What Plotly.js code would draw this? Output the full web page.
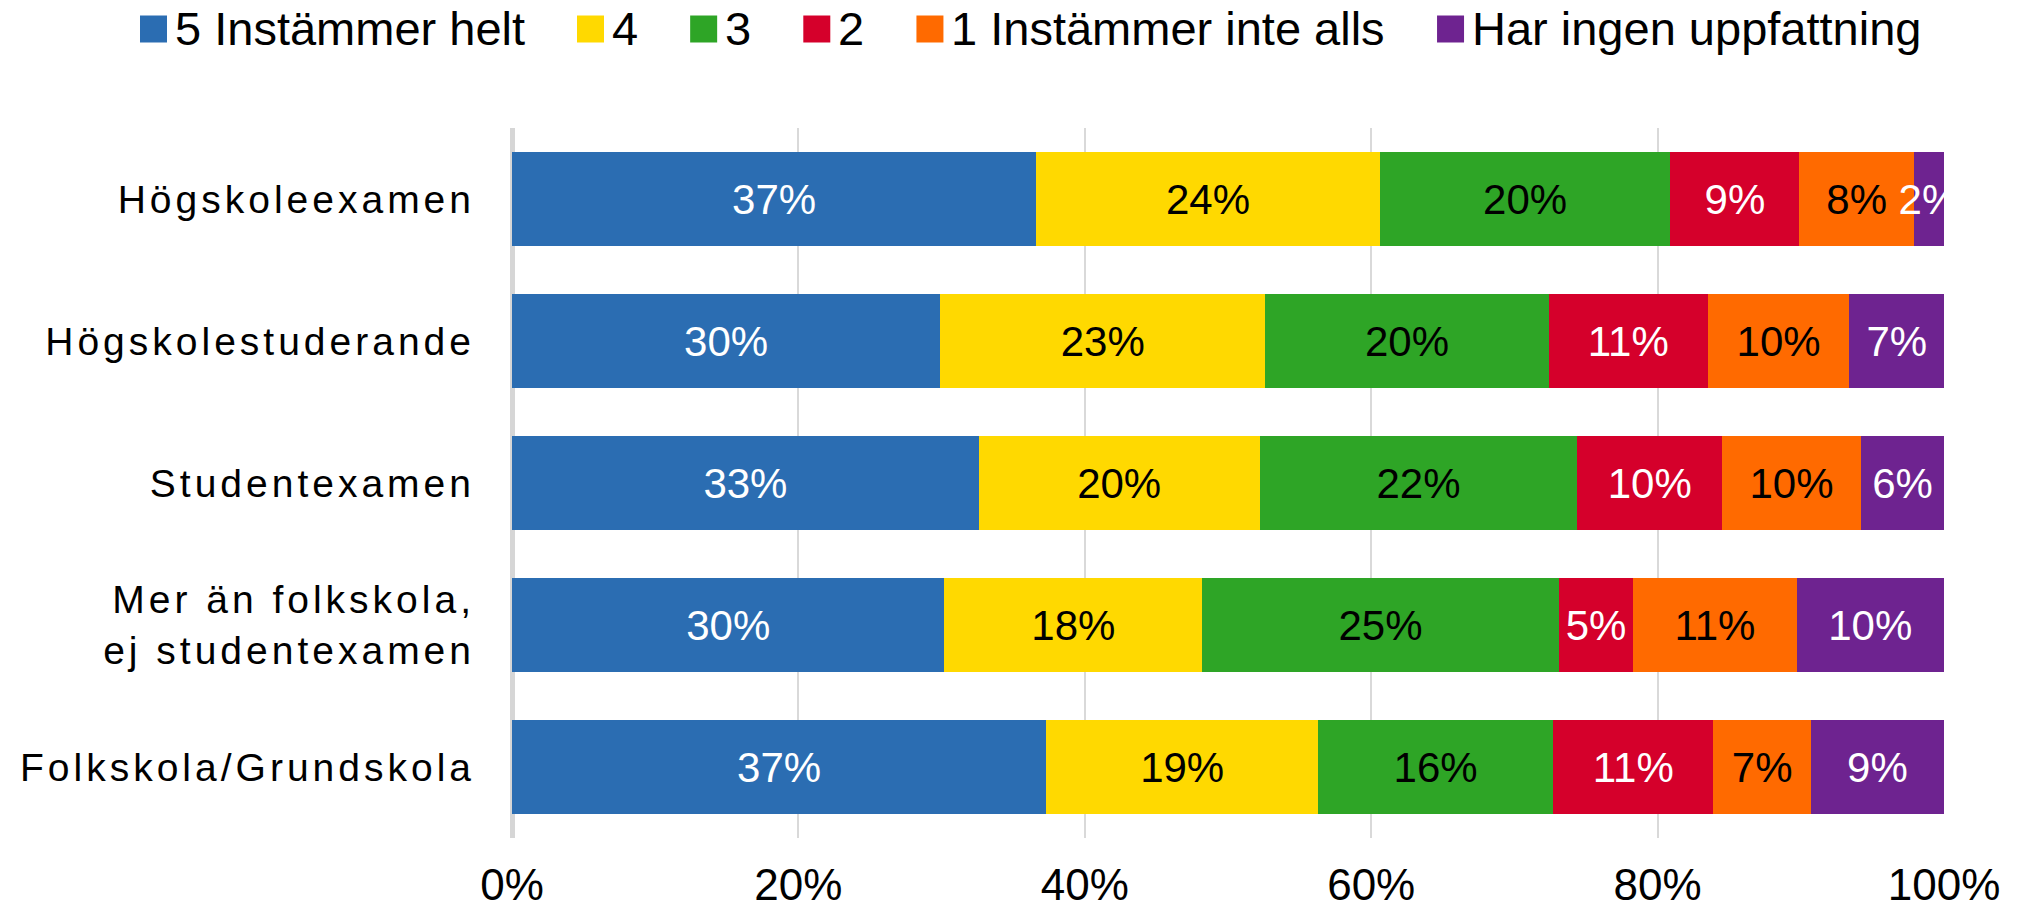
<!DOCTYPE html>
<html><head><meta charset="utf-8">
<script src="https://cdn.plot.ly/plotly-3.0.1.min.js"></script>
<style>
html,body{margin:0;padding:0;background:#fff;}
#chart{width:2018px;height:913px;}
#chart .ytick text{letter-spacing:4px;}
</style></head><body><div id="chart"></div>
<script>
// ---- data ----
const categories = ["Högskoleexamen","Högskolestuderande","Studentexamen","Mer än folkskola,<br>ej studentexamen","Folkskola/Grundskola"];
const seriesNames = ["5 Instämmer helt","4","3","2","1 Instämmer inte alls","Har ingen uppfattning"];
const s5 = [36.6, 29.9, 32.6, 30.2, 37.3];
const s4 = [24.0, 22.7, 19.6, 18.0, 19.0];
const s3 = [20.3, 19.8, 22.2, 24.9, 16.4];
const s2 = [9.0, 11.1, 10.1, 5.2, 11.2];
const s1 = [8.0, 9.9, 9.7, 11.4, 6.8];
const sNone = [2.1, 6.6, 5.8, 10.3, 9.3];
const xTickValues = [0, 20, 40, 60, 80, 100];
const xTickLabels = ["0%","20%","40%","60%","80%","100%"];

// ---- styles ----
const seriesValues = [s5, s4, s3, s2, s1, sNone];
const colors = ["#2b6db2","#ffd900","#2ea526","#d5002b","#ff6a00","#6e2390"];
const textColors = ["#ffffff","#000000","#000000","#ffffff","#000000","#ffffff"];
const FONT = "Liberation Sans, Arial, sans-serif";
const W = 2018, H = 913;
const margin = {l:512, r:74, t:128, b:75};
const plotW = W - margin.l - margin.r, plotH = H - margin.t - margin.b;

const traces = seriesValues.map((vals, i) => ({
  type: "bar", orientation: "h", name: seriesNames[i],
  x: vals, y: categories,
  marker: {color: colors[i], line: {width: 0}},
  texttemplate: "%{x:.0f}%", textposition: "inside", insidetextanchor: "middle",
  constraintext: "none", textangle: 0,
  insidetextfont: {family: FONT, size: 42, color: textColors[i]},
  cliponaxis: true, hoverinfo: "skip", showlegend: false
}));

// ---- legend (keys + text above the plot) ----
const ctx = document.createElement("canvas").getContext("2d");
const legendFont = 47;
ctx.font = legendFont + 'px "Liberation Sans"';
const shapes = [], annotations = [];
const toPX = v => (v - margin.l) / plotW;
const toPY = v => (margin.t + plotH - v) / plotH;
let cx = 140; const sq = 27, gapIn = 7, gapOut = 53, legendMid = 29;
seriesNames.forEach((n, i) => {
  shapes.push({type: "rect", xref: "paper", yref: "paper",
    x0: toPX(cx), x1: toPX(cx + sq), y0: toPY(legendMid + sq/2), y1: toPY(legendMid - sq/2),
    fillcolor: colors[i], line: {width: 0}, layer: "above"});
  const tx = cx + sq + gapIn;
  annotations.push({xref: "paper", yref: "paper", x: toPX(tx), y: toPY(legendMid),
    xanchor: "left", yanchor: "middle", text: n, showarrow: false,
    font: {family: FONT, size: legendFont, color: "#000"}, borderpad: 0});
  cx = tx + ctx.measureText(n).width + gapOut;
});

const layout = {
  width: W, height: H, margin: margin,
  paper_bgcolor: "#fff", plot_bgcolor: "#fff",
  font: {family: FONT, color: "#000"},
  barmode: "stack", bargap: 0.34,
  showlegend: false,
  xaxis: {range: [0, 100], tickvals: xTickValues, ticktext: xTickLabels,
    showgrid: true, gridcolor: "#d9d9d9", gridwidth: 2,
    zeroline: true, zerolinecolor: "#d6d6d6", zerolinewidth: 5,
    showline: false, ticks: "", ticklabelstandoff: 17,
    tickfont: {family: FONT, size: 44, color: "#000"}, fixedrange: true},
  yaxis: {type: "category", autorange: "reversed", showgrid: false, zeroline: false,
    showline: false, ticks: "", ticklabelstandoff: 36,
    tickfont: {family: FONT, size: 39, color: "#000"}, fixedrange: true},
  shapes: shapes, annotations: annotations
};

Plotly.newPlot("chart", traces, layout, {displayModeBar: false, staticPlot: true});
</script></body></html>
